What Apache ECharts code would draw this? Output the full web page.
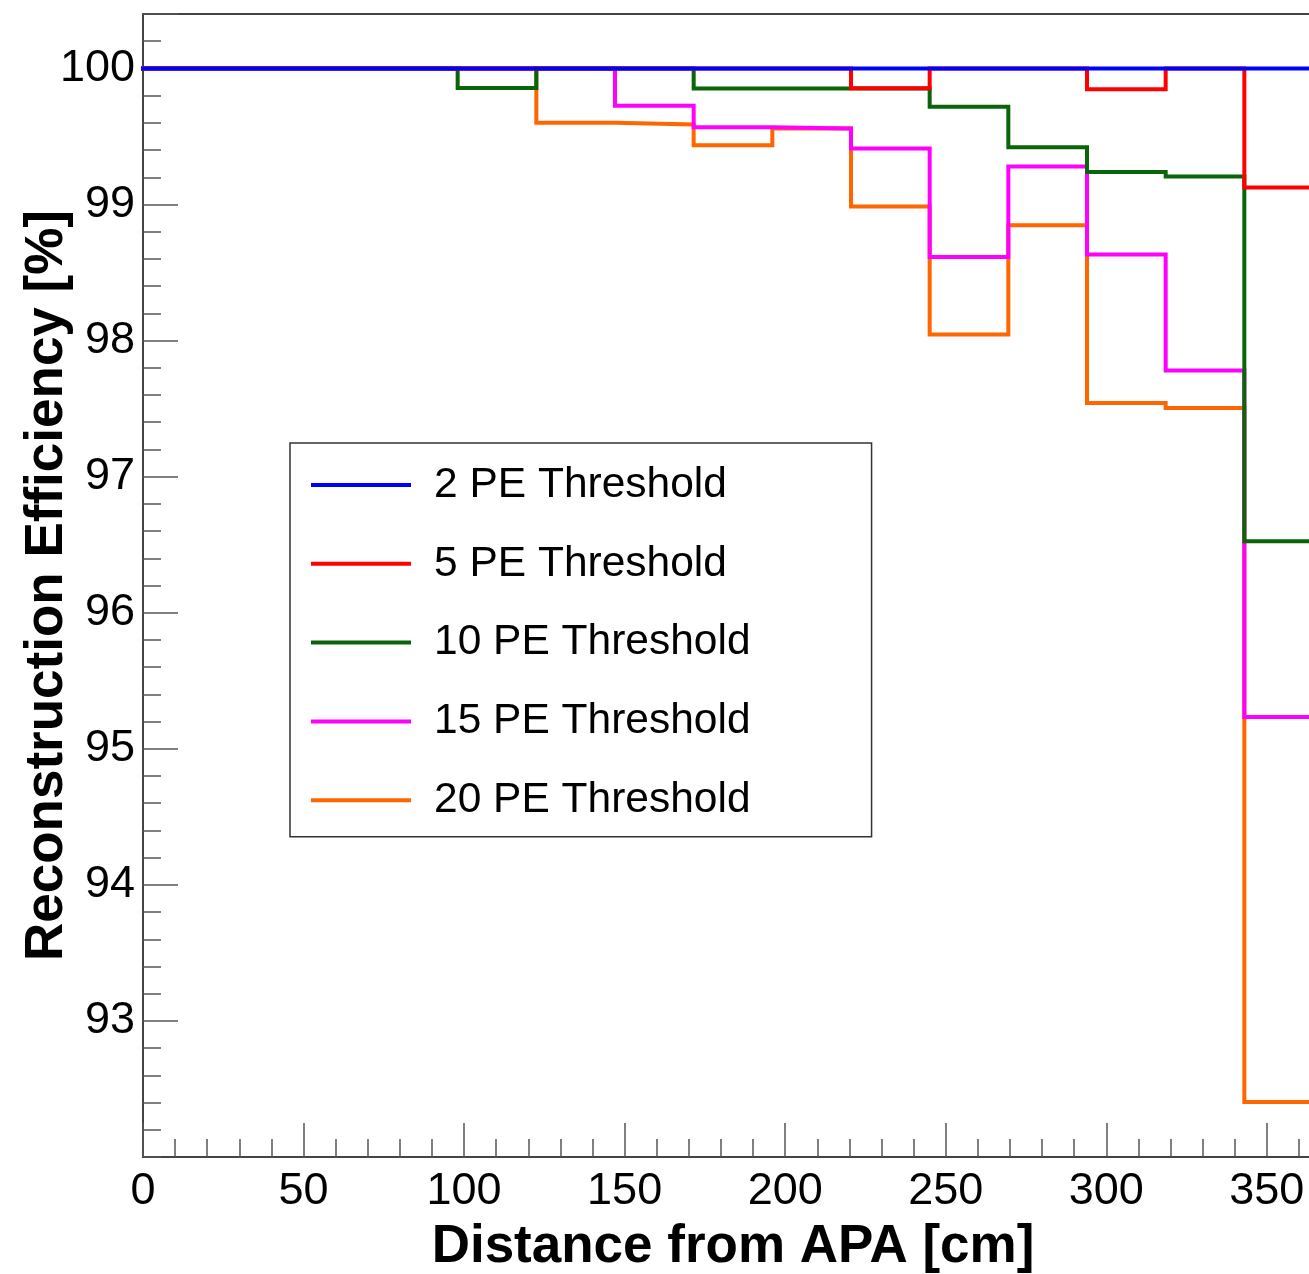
<!DOCTYPE html>
<html>
<head>
<meta charset="utf-8">
<script src="https://cdn.jsdelivr.net/npm/echarts@6/dist/echarts.min.js"></script>
<style>html,body{margin:0;padding:0;background:#fff;}#c{width:1309px;height:1274px;}</style>
</head>
<body>
<div id="c"></div>
<script>
// Bin edges of the histograms (cm), 15 bins of 24.5 cm
const binEdges = [0, 24.5, 49, 73.5, 98, 122.5, 147, 171.5, 196, 220.5, 245, 269.5, 294, 318.5, 343, 367.5];
// Reconstruction efficiency [%] per bin
const pe2  = [100, 100, 100, 100, 100, 100, 100, 100, 100, 100, 100, 100, 100, 100, 100];
const pe5  = [100, 100, 100, 100, 100, 100, 100, 100, 100, 99.855, 100, 100, 99.847, 100, 99.125];
const pe10 = [100, 100, 100, 100, 99.857, 100, 100, 99.853, 99.853, 99.853, 99.719, 99.42, 99.238, 99.206, 96.525];
const pe15 = [100, 100, 100, 100, 100, 100, 99.726, 99.568, 99.558, 99.412, 98.614, 99.279, 98.632, 97.78, 95.233];
const pe20 = [100, 100, 100, 100, 100, 99.60, 99.588, 99.436, 99.558, 98.986, 98.044, 98.847, 97.541, 97.504, 92.405];
const seriesNames = ['2 PE Threshold', '5 PE Threshold', '10 PE Threshold', '15 PE Threshold', '20 PE Threshold'];
const seriesValues = [pe2, pe5, pe10, pe15, pe20];
const seriesColors = ['#0000ff', '#ff0000', '#0a640a', '#ff00ff', '#ff6600'];

const FONT = '"Liberation Sans", Arial, Helvetica, sans-serif';

function histPoints(vals) {
  return binEdges.map((e, i) => [e, vals[Math.min(i, vals.length - 1)]]);
}

const chart = echarts.init(document.getElementById('c'), null, {renderer: 'canvas'});
const tickColor = '#555';
chart.setOption({
  animation: false,
  backgroundColor: '#fff',
  grid: {left: 143, top: 14, right: -14, bottom: 117, show: true, borderColor: '#444', borderWidth: 2,
         backgroundColor: 'transparent', containLabel: false, outerBoundsMode: 'none'},
  legend: {
    orient: 'vertical',
    left: 290, top: 443,
    padding: [20.5, 121, 15, 21],
    itemGap: 35.8,
    itemWidth: 100,
    itemHeight: 4,
    icon: 'rect',
    backgroundColor: '#fff',
    borderColor: '#333',
    borderWidth: 1.5,
    borderRadius: 0,
    textStyle: {fontFamily: FONT, fontSize: 42.5, color: '#000', padding: [0, 0, 0, 18]},
    data: seriesNames
  },
  xAxis: [{
    type: 'value', min: 0, max: 367.5, interval: 50,
    axisLine: {show: true, lineStyle: {color: '#444', width: 2}},
    axisTick: {show: true, inside: true, length: 34, lineStyle: {color: tickColor, width: 1.5}},
    axisLabel: {fontFamily: FONT, fontSize: 45, color: '#000', margin: 12,
      formatter: v => (Math.abs(v % 50) < 1e-6 ? String(Math.round(v)) : '')},
    splitLine: {show: false},
    name: 'Distance from APA [cm]', nameLocation: 'middle', nameGap: 64,
    nameTextStyle: {fontFamily: FONT, fontSize: 53, fontWeight: 'bold', color: '#000'}
  }, {
    type: 'value', min: 0, max: 367.5, interval: 10, position: 'bottom',
    axisLine: {show: false},
    axisTick: {show: true, inside: true, length: 18, lineStyle: {color: tickColor, width: 1.5}},
    axisLabel: {show: false},
    splitLine: {show: false}
  }],
  yAxis: [{
    type: 'value', min: 92, max: 100.4, interval: 1,
    axisLine: {show: true, lineStyle: {color: '#444', width: 2}},
    axisTick: {show: true, inside: true, length: 35, lineStyle: {color: tickColor, width: 1.5}},
    axisLabel: {fontFamily: FONT, fontSize: 45, color: '#000', margin: 8, showMinLabel: false,
      formatter: v => (Math.abs(v - Math.round(v)) < 1e-6 ? String(Math.round(v)) : '')},
    splitLine: {show: false},
    name: 'Reconstruction Efficiency [%]', nameLocation: 'middle', nameGap: 69, nameMoveOverlap: false,
    nameTextStyle: {fontFamily: FONT, fontSize: 53, fontWeight: 'bold', color: '#000'}
  }, {
    type: 'value', min: 92, max: 100.4, interval: 0.2, position: 'left', offset: 0,
    axisLine: {show: false},
    axisTick: {show: true, inside: true, length: 18, lineStyle: {color: tickColor, width: 1.5}},
    axisLabel: {show: false},
    splitLine: {show: false}
  }],
  series: seriesNames.map((name, i) => ({
    name: name,
    type: 'line',
    step: 'end',
    xAxisIndex: 0, yAxisIndex: 0,
    data: histPoints(seriesValues[i]),
    symbol: 'none',
    showSymbol: false,
    color: seriesColors[i],
    lineStyle: {color: seriesColors[i], width: 4, cap: 'square', join: 'miter'},
    z: 10 - i,
    clip: true
  }))
});
</script>
</body>
</html>
